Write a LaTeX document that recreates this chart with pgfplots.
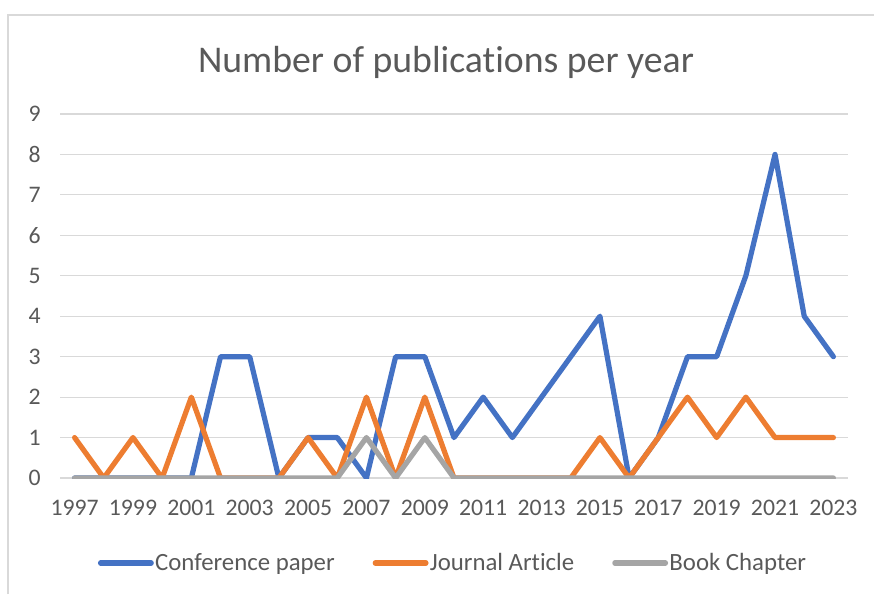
\documentclass[border=0pt]{standalone}
\usepackage{fontspec}
\setmainfont{Carlito}[Ligatures=NoCommon]
\usepackage{pgfplots}
\pgfplotsset{compat=1.18}

\definecolor{confblue}{HTML}{4472C4}
\definecolor{journalorange}{HTML}{ED7D31}
\definecolor{bookgray}{HTML}{A5A5A5}
\definecolor{textgray}{HTML}{595959}
\definecolor{gridgray}{HTML}{D9D9D9}

\pgfplotstableread{
year conf journal book
1997 0 1 0
1998 0 0 0
1999 0 1 0
2000 0 0 0
2001 0 2 0
2002 3 0 0
2003 3 0 0
2004 0 0 0
2005 1 1 0
2006 1 0 0
2007 0 2 1
2008 3 0 0
2009 3 2 1
2010 1 0 0
2011 2 0 0
2012 1 0 0
2013 2 0 0
2014 3 0 0
2015 4 1 0
2016 0 0 0
2017 1 1 0
2018 3 2 0
2019 3 1 0
2020 5 2 0
2021 8 1 0
2022 4 1 0
2023 3 1 0
}\pubs

\begin{document}
\begin{tikzpicture}[x=1pt,y=1pt]
\path[use as bounding box] (0,0) rectangle (655.5,445.5);
% chart area frame
\draw[gridgray, line width=1.1pt] (6,0) -- (6,434.25) -- (655.5,434.25);
\begin{axis}[
  at={(45pt,87pt)}, anchor=south west,
  scale only axis, width=591pt, height=273pt,
  xmin=1996.5, xmax=2023.5, ymin=0, ymax=9,
  xtick={1997,1999,...,2023}, ytick={0,...,9},
  axis line style={draw=none},
  major tick length=0pt,
  ymajorgrids, grid style={gridgray, line width=0.9pt},
  tick label style={font=\fontsize{17.8}{20}\selectfont, text=textgray},
  /pgf/number format/assume math mode=true,
  /pgf/number format/1000 sep={},
  yticklabel style={xshift=-11pt},
  xticklabel style={yshift=-13pt},
  legend columns=3,
  legend style={draw=none, fill=none, at={(0.5,0)}, anchor=center,
    xshift=-1pt, yshift=-63.75pt, font=\fontsize{18.6}{22}\selectfont, text=textgray,
    inner sep=0pt,
    nodes={inner sep=1pt},
    /tikz/every even column/.append style={column sep=27.5pt}},
  legend cell align=left,
  legend image code/.code={\draw[#1, line width=3.9pt, line cap=round] (0pt,0pt) -- (38pt,0pt);},
  every axis plot/.append style={line width=3.9pt, line cap=round, line join=round, mark=none},
]
\addplot[confblue] table[x=year, y=conf] {\pubs};
\addlegendentry{Conference paper}
\addplot[journalorange] table[x=year, y=journal] {\pubs};
\addlegendentry{Journal Article}
\addplot[bookgray] table[x=year, y=book] {\pubs};
\addlegendentry{Book Chapter}
\end{axis}
\node[text=textgray, font=\fontsize{28.3}{34}\selectfont] at (334.5,399) {Number of publications per year};
\end{tikzpicture}
\end{document}
